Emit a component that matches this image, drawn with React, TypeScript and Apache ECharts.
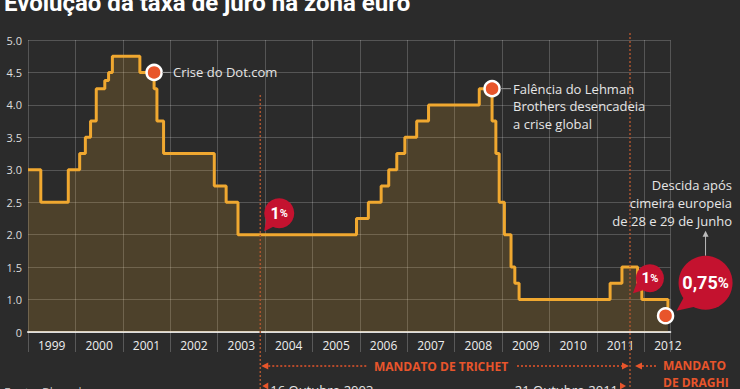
import React, { useEffect, useRef } from "react";
import * as echarts from "echarts";

// ECB main refinancing rate (decimal year of change, new rate %)
const rateDates = [
  1999.0, 1999.27, 1999.85, 2000.09, 2000.21, 2000.32, 2000.44, 2000.62, 2000.7, 2000.78,
  2001.36, 2001.66, 2001.72, 2001.86, 2002.93, 2003.18, 2003.43,
  2005.93, 2006.18, 2006.45, 2006.61, 2006.78, 2006.95, 2007.2, 2007.45,
  2008.52, 2008.79, 2008.87, 2008.94, 2009.05, 2009.19, 2009.27, 2009.36,
  2011.28, 2011.53, 2011.86, 2011.95, 2012.5,
];
const rateValues = [
  3.0, 2.5, 3.0, 3.25, 3.5, 3.75, 4.25, 4.375, 4.5, 4.75,
  4.5, 4.25, 3.75, 3.25, 2.75, 2.5, 2.0,
  2.25, 2.5, 2.75, 3.0, 3.25, 3.5, 3.75, 4.0,
  4.25, 3.75, 3.25, 2.5, 2.0, 1.5, 1.25, 1.0,
  1.25, 1.5, 1.25, 1.0, 0.75,
];

// highlighted events (x, y)
const eventDates = [2001.66, 2008.79, 2012.45];
const eventValues = [4.5, 4.25, 0.75];

const yTicksMin = 0.5; // the axis starts at 0.5 but is labelled "0"
const yTicksMax = 5.0;
const xMin = 1999;
const xMax = 2012.55;

const trichetStart = 2003.9;
const draghiStart = 2011.7;

const title = "Evolução da taxa de juro na zona euro";
const source = "Fonte: Bloomberg";
const dotcomLabel = "Crise do Dot.com";
const lehmanLabel = ["Falência do Lehman", "Brothers desencadeia", "a crise global"];
const descidaLabel = ["Descida após", "cimeira europeia", "de 28 e 29 de Junho"];

const BG = "#2b2b2b";
const ORANGE = "#f0a830";
const RED = "#c4122f";
const MARK = "#e8552b";
const FONT = "'Open Sans', 'Noto Sans', sans-serif";

export default function App() {
  const ref = useRef<HTMLDivElement>(null);

  useEffect(() => {
    if (!ref.current) return;
    const chart = echarts.init(ref.current, undefined, { renderer: "svg" });
    const lineData = rateDates.map((d, i) => [d, rateValues[i]]);
    const eventData = eventDates.map((d, i) => [d, eventValues[i]]);

    chart.setOption({
      animation: false,
      backgroundColor: BG,
      textStyle: { fontFamily: FONT },
      grid: { left: 28, right: 69.7, top: 40, bottom: 57 },
      xAxis: [
        {
          type: "value",
          min: xMin,
          max: xMax,
          interval: 1,
          position: "bottom",
          axisLine: { show: true, onZero: false, lineStyle: { color: "#dcdcdc", width: 2 } },
          axisTick: { show: true, length: 20, lineStyle: { color: "rgba(255,255,255,0.22)", width: 1 } },
          axisLabel: { show: false },
          splitLine: { show: true, lineStyle: { color: "rgba(255,255,255,0.2)", width: 1 } },
        },
        {
          type: "value",
          min: xMin,
          max: xMax,
          interval: 0.5,
          position: "bottom",
          offset: 0,
          axisLine: { show: false },
          axisTick: { show: false },
          splitLine: { show: false },
          axisLabel: {
            color: "#eeeeee",
            fontSize: 12,
            fontFamily: FONT,
            margin: 7,
            formatter: (v: number) => (Math.abs((v % 1) - 0.5) < 1e-6 ? String(Math.floor(v)) : ""),
          },
        },
      ],
      yAxis: {
        type: "value",
        min: yTicksMin,
        max: yTicksMax,
        interval: 0.5,
        axisLine: { show: false },
        axisTick: { show: false },
        axisLabel: {
          color: "#dddddd",
          fontSize: 11,
          fontFamily: FONT,
          margin: 6,
          formatter: (v: number) => (Math.abs(v - yTicksMin) < 1e-6 ? "0" : v.toFixed(1)),
        },
        splitLine: { show: true, lineStyle: { color: "rgba(255,255,255,0.2)", width: 1 } },
      },
      series: [
        {
          type: "line",
          step: "end",
          data: lineData,
          symbol: "none",
          lineStyle: { color: ORANGE, width: 3 },
          areaStyle: { color: "rgba(240,168,48,0.25)" },
          z: 2,
        },
        {
          type: "scatter",
          data: eventData,
          symbol: "circle",
          symbolSize: 15,
          itemStyle: { color: MARK, borderColor: "#ffffff", borderWidth: 2.5, opacity: 1 },
          z: 5,
        },
      ],
    });

    const P = (x: number, y: number) =>
      chart.convertToPixel({ seriesIndex: 0 }, [x, y]) as number[];

    const g: any[] = [];
    const txt = (x: number, y: number, text: string, extra: any = {}) =>
      g.push({
        type: "text",
        x,
        y,
        silent: true,
        style: {
          text,
          fill: "#e6e6e6",
          font: `13px ${FONT}`,
          align: "left",
          verticalAlign: "middle",
          ...extra,
        },
        z: 20,
      });
    const line = (x1: number, y1: number, x2: number, y2: number, stroke: string, dash: any = null, w = 1) =>
      g.push({
        type: "line",
        silent: true,
        shape: { x1, y1, x2, y2 },
        style: { stroke, lineWidth: w, lineDash: dash },
        z: 15,
      });
    const tri = (pts: number[][], fill: string) =>
      g.push({ type: "polygon", silent: true, shape: { points: pts }, style: { fill }, z: 16 });

    // title and source
    txt(4, 3, title, { font: `bold 24px Roboto, ${FONT}`, fill: "#ffffff" });
    txt(4, 392, source, { font: `12px ${FONT}`, fill: "#bbbbbb" });

    // mandate lines
    const xT = P(trichetStart, 1)[0];
    const xD = P(draghiStart, 1)[0];
    line(xT, 95, xT, 389, "#a9542f", [2, 2], 1.5);
    line(xD, 33, xD, 389, "#a9542f", [2, 2], 1.5);

    // Dot.com label
    const [dx, dy] = P(eventDates[0], eventValues[0]);
    line(dx + 8, dy, dx + 17, dy, "#999999");
    txt(dx + 19, dy, dotcomLabel);

    // Lehman label
    const [lx, ly] = P(eventDates[1], eventValues[1]);
    line(lx + 8, ly, lx + 19, ly, "#999999");
    lehmanLabel.forEach((s, i) => txt(lx + 21, ly + i * 17.5, s));

    // bubbles
    const bubble = (cx: number, cy: number, r: number, tail: number[][], big: string, pct: number, bigSize: number) => {
      g.push({ type: "circle", silent: true, shape: { cx, cy, r }, style: { fill: RED }, z: 17 });
      tri(tail, RED);
      g.push({
        type: "text",
        silent: true,
        x: cx,
        y: cy,
        z: 18,
        style: {
          text: `{a|${big}}{b|%}`,
          align: "center",
          verticalAlign: "middle",
          rich: {
            a: { fill: "#ffffff", fontWeight: "bold", fontSize: bigSize, fontFamily: `Roboto, ${FONT}` },
            b: { fill: "#ffffff", fontWeight: "bold", fontSize: pct, fontFamily: `Roboto, ${FONT}` },
          },
        },
      });
    };

    // 1% in 2003
    const [b1x, b1y] = P(2004.3, 2.33);
    bubble(b1x, b1y, 15, [[b1x - 13, b1y + 6], [b1x - 5, b1y + 13], [b1x - 15, b1y + 18]], "1", 11, 16);
    // 1% in 2011
    const [b2x, b2y] = P(2012.12, 1.33);
    bubble(b2x, b2y, 14, [[b2x - 13, b2y + 4], [b2x - 7, b2y + 12], [b2x - 17, b2y + 15]], "1", 11, 15);
    // 0,75%
    const [ex, ey] = P(eventDates[2], eventValues[2]);
    const b3x = ex + 40;
    const b3y = ey - 33;
    bubble(b3x, b3y, 27, [[b3x - 22, b3y + 15], [b3x - 11, b3y + 24], [b3x - 29, b3y + 28]], "0,75", 15, 18);

    // descida label + arrow
    line(b3x, b3y - 27, b3x, b3y - 48, "#bbbbbb");
    tri([[b3x, b3y - 52], [b3x - 3, b3y - 46], [b3x + 3, b3y - 46]], "#bbbbbb");
    descidaLabel.forEach((s, i) => txt(732, 185 + i * 18, s, { align: "right" }));

    // bottom mandate arrows
    const ay = 366;
    tri([[xT + 1, ay], [xT + 8, ay - 3.5], [xT + 8, ay + 3.5]], MARK);
    line(xT + 8, ay, 368, ay, MARK, [2, 2], 1.5);
    txt(441, ay, "MANDATO DE TRICHET", { font: `bold 12px ${FONT}`, fill: MARK, align: "center" });
    line(517, ay, xD - 8, ay, MARK, [2, 2], 1.5);
    tri([[xD - 1, ay], [xD - 8, ay - 3.5], [xD - 8, ay + 3.5]], MARK);
    tri([[xD + 5, ay], [xD + 12, ay - 3.5], [xD + 12, ay + 3.5]], MARK);
    line(xD + 12, ay, 658, ay, MARK, [2, 2], 1.5);
    txt(663, 365, "MANDATO", { font: `bold 12px ${FONT}`, fill: MARK });
    txt(663, 382, "DE DRAGHI", { font: `bold 12px ${FONT}`, fill: MARK });

    // dates
    tri([[xT + 2, 386], [xT + 8, 382.5], [xT + 8, 389.5]], MARK);
    txt(xT + 10, 390, "16 Outubro 2003");
    txt(xD - 12, 390, "21 Outubro 2011", { align: "right" });
    tri([[xD - 4, 386], [xD - 10, 382.5], [xD - 10, 389.5]], MARK);

    chart.setOption({ graphic: g });

    return () => chart.dispose();
  }, []);

  return <div ref={ref} style={{ width: 740, height: 389, position: "absolute", left: 0, top: 0 }} />;
}
